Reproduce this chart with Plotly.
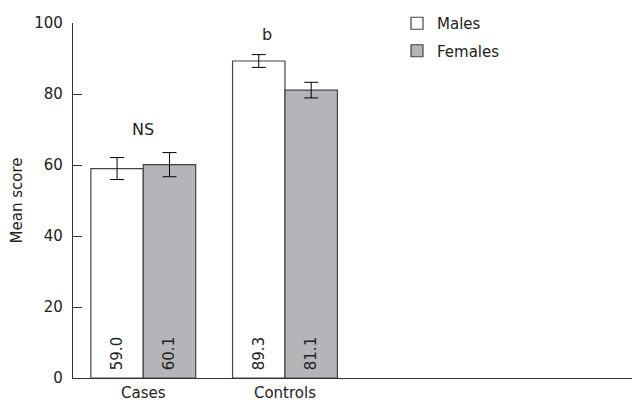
import plotly.graph_objects as go

categories = ["Cases", "Controls"]
x_pos = [0, 1]
males = [59.0, 89.3]
females = [60.1, 81.1]
males_err = [3.1, 1.8]
females_err = [3.4, 2.2]
y_ticks = [0, 20, 40, 60, 80, 100]

FONT = "DejaVu Sans"
fig = go.Figure()
fig.add_trace(go.Bar(
    x=x_pos, y=males, name="Males", legendgroup="m",
    marker=dict(color="white", line=dict(color="#444444", width=1.2)),
    error_y=dict(type="data", array=males_err, color="black", thickness=1, width=7),
    text=["\u00a0" + f"{v:.1f}" for v in males], textposition="inside", insidetextanchor="start",
    textangle=-90, textfont=dict(family=FONT, size=15, color="#222222"),
))
fig.add_trace(go.Bar(
    x=x_pos, y=females, name="Females", legendgroup="f",
    marker=dict(color="#b5b5b9", line=dict(color="#444444", width=1.2)),
    error_y=dict(type="data", array=females_err, color="black", thickness=1, width=7),
    text=["\u00a0" + f"{v:.1f}" for v in females], textposition="inside", insidetextanchor="start",
    textangle=-90, textfont=dict(family=FONT, size=15, color="#222222"),
))

fig.add_annotation(x=0, y=69.9, text="NS", showarrow=False,
                   font=dict(family=FONT, size=16, color="#222222"))
fig.add_annotation(x=0.871, y=96.7, text="b", showarrow=False,
                   font=dict(family=FONT, size=16, color="#222222"))

fig.update_layout(
    width=633, height=403,
    margin=dict(l=73, r=1, t=23, b=25, autoexpand=False),
    paper_bgcolor="white", plot_bgcolor="white",
    barmode="group", bargap=0.26, bargroupgap=0,
    font=dict(family=FONT, size=15, color="#222222"),
    legend=dict(x=(397 - 73) / 559, y=1 + 16 / 355, xanchor="left", yanchor="top",
                font=dict(family=FONT, size=15), tracegroupgap=5,
                bgcolor="rgba(0,0,0,0)"),
    showlegend=True,
)
fig.update_xaxes(
    range=[-0.496, 3.449], tickvals=x_pos, ticktext=categories,
    showline=True, linecolor="#333333", linewidth=1.2, ticks="",
    showgrid=False, zeroline=False, tickfont=dict(family=FONT, size=15),
    ticklabelstandoff=1, automargin=False,
)
fig.update_yaxes(
    range=[0, 100], tickvals=y_ticks, showline=True, linecolor="#333333",
    linewidth=1.2, ticks="inside", ticklen=9, tickcolor="#333333",
    showgrid=False, zeroline=False, title=dict(text="Mean score", standoff=8,
    font=dict(family=FONT, size=15)), tickfont=dict(family=FONT, size=15),
    ticklabelstandoff=6, automargin=False,
)
fig.write_html("out.html")
